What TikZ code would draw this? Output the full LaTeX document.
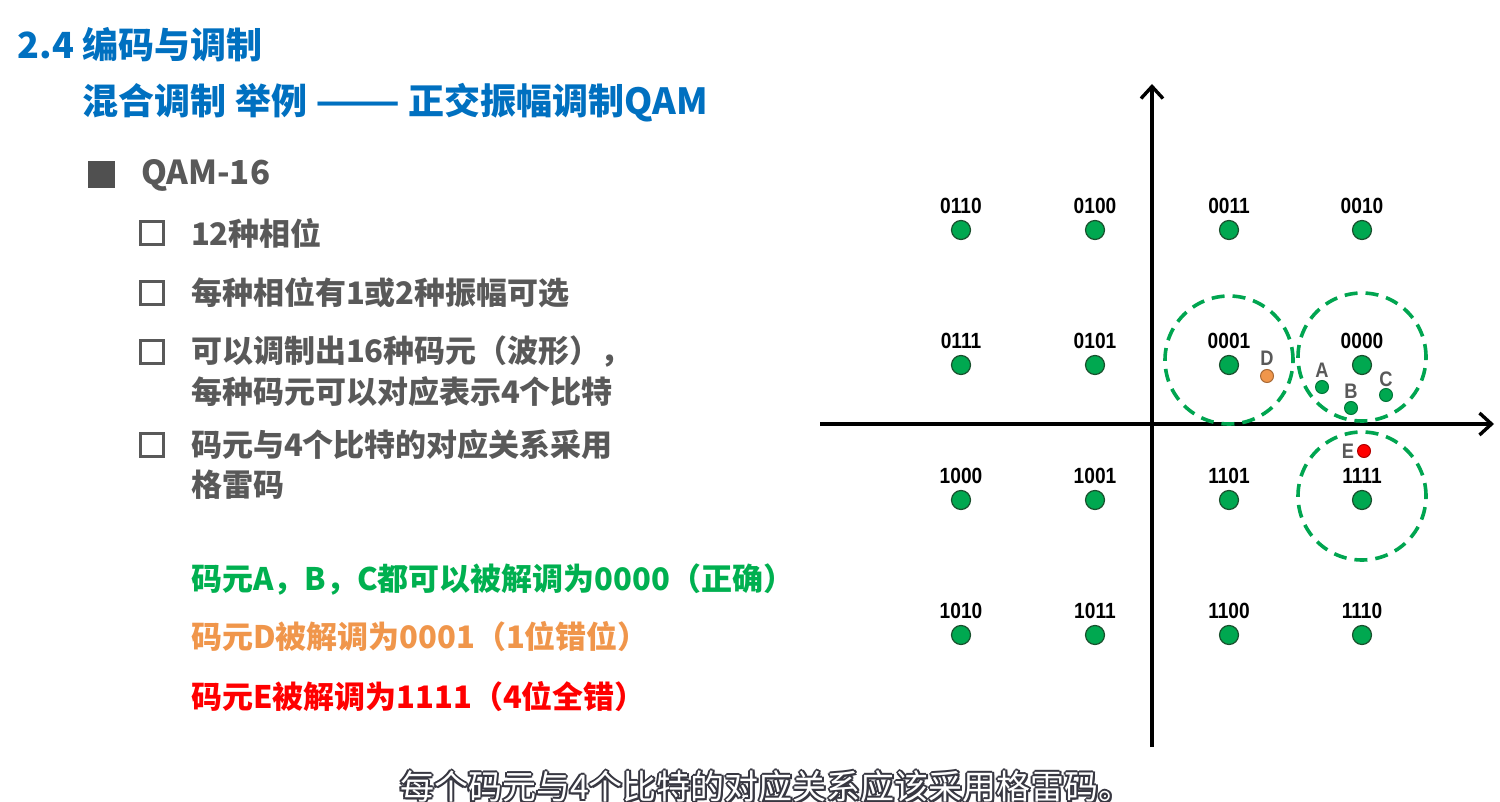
\documentclass[tikz,border=0pt]{standalone}
\usepackage{fontspec}
\usetikzlibrary{arrows.meta}
\newfontfamily\cjkfont{Noto Sans CJK SC}
\newfontfamily\labfont{Liberation Sans}[FakeStretch=0.87]
\definecolor{titleblue}{RGB}{0,112,192}
\definecolor{textgray}{RGB}{89,89,89}
\definecolor{bulletgray}{RGB}{80,80,80}
\definecolor{okgreen}{RGB}{0,176,80}
\definecolor{warnorange}{RGB}{240,150,75}
\definecolor{errred}{RGB}{255,0,0}
\definecolor{dotgreen}{RGB}{0,168,80}
\definecolor{dotedge}{RGB}{25,80,45}
\definecolor{ringgreen}{RGB}{0,165,80}
\definecolor{subedge}{RGB}{55,55,65}
\begin{document}
\begin{tikzpicture}[x=0.5pt,y=-0.5pt,
  every node/.style={inner sep=0pt,outer sep=0pt},
  headline/.style={anchor=west,font=\cjkfont\bfseries\fontsize{18}{20}\selectfont,text=titleblue},
  bodytext/.style={anchor=west,font=\cjkfont\bfseries\fontsize{15.5}{18}\selectfont,text=textgray},
  resulttext/.style={anchor=west,font=\cjkfont\bfseries\fontsize{15.5}{18}\selectfont},
  checkbox/.style={draw=textgray,line width=1.3pt,minimum size=11.5pt},
  fullbullet/.style={fill=bulletgray,minimum size=13.5pt},
  axisline/.style={line width=1.7pt,-{Straight Barb[length=6pt,width=11pt,line width=1.7pt]}},
  ring/.style={draw=ringgreen,line width=1.8pt,dash pattern=on 6.5pt off 4pt},
  symdot/.style={circle,fill=dotgreen,draw=dotedge,line width=0.6pt,minimum size=9.5pt},
  rxdot/.style={circle,draw=#1!70!black,fill=#1,line width=0.5pt,minimum size=6.5pt},
  codelab/.style={font=\labfont\bfseries\fontsize{11}{12}\selectfont,text=black},
  ptlab/.style={font=\labfont\bfseries\fontsize{10.5}{12}\selectfont,text=textgray},
  subshadow/.style={anchor=west,font=\cjkfont\fontsize{17}{18}\selectfont,text=subedge},
  subfront/.style={anchor=west,font=\cjkfont\fontsize{17}{18}\selectfont,text=white}
]
\useasboundingbox (0,0) rectangle (1500,802);
\fill[white] (0,0) rectangle (1500,802);

% headings
\node[headline] (h1) at (18,45) {2.4 编码与调制};
\node[headline] (h2) at (83,103) {混合调制 举例 \scalebox{1.38}[1]{——} 正交振幅调制QAM};

% bullet list
\node[fullbullet] (b0) at (101,175) {};
\node[bodytext,font=\cjkfont\bfseries\fontsize{16.5}{18}\selectfont] (t0) at (141,175) {QAM-16};
\node[checkbox] (c1) at (152,233) {};
\node[bodytext] (t1) at (191,233) {12种相位};
\node[checkbox] (c2) at (152,293) {};
\node[bodytext] (t2) at (191,293) {每种相位有1或2种振幅可选};
\node[checkbox] (c3) at (152,352) {};
\node[bodytext] (t3a) at (191,352) {可以调制出16种码元（波形），};
\node[bodytext] (t3b) at (191,392) {每种码元可以对应表示4个比特};
\node[checkbox] (c4) at (152,445) {};
\node[bodytext] (t4a) at (191,445) {码元与4个比特的对应关系采用};
\node[bodytext] (t4b) at (191,485) {格雷码};

% demodulation results
\node[resulttext,text=okgreen] (r1) at (191,580) {码元A，B，C都可以被解调为0000（正确）};
\node[resulttext,text=warnorange] (r2) at (191,637) {码元D被解调为0001（1位错位）};
\node[resulttext,text=errred] (r3) at (191,697) {码元E被解调为1111（4位全错）};

% axes
\coordinate (xl) at (820,424);
\coordinate (xr) at (1494,424);
\coordinate (yb) at (1152,747);
\coordinate (yt) at (1152,84);
\draw[axisline] (xl) -- (xr);
\draw[axisline] (yb) -- (yt);

% decision regions
\draw[ring] (1229,360) circle[radius=32pt];
\draw[ring] (1362,357) circle[radius=32pt];
\draw[ring] (1362,496) circle[radius=32pt];

% 16 constellation points with Gray-coded labels
\foreach \code/\px/\py in {
  0110/961/230, 0100/1095/230, 0011/1229/230, 0010/1362/230,
  0111/961/365, 0101/1095/365, 0001/1229/365, 0000/1362/365,
  1000/961/500, 1001/1095/500, 1101/1229/500, 1111/1362/500,
  1010/961/635, 1011/1095/635, 1100/1229/635, 1110/1362/635}{
  \node[symdot] (s\code) at (\px,\py) {};
  \node[codelab] (l\code) at ([yshift=12pt]s\code.center) {\code};
}

% received symbols
\node[rxdot=dotgreen] (pA) at (1322,387) {};
\node[ptlab] (lA) at (1322,370) {A};
\node[rxdot=dotgreen] (pB) at (1351,408) {};
\node[ptlab] (lB) at (1351,391) {B};
\node[rxdot=dotgreen] (pC) at (1386,395) {};
\node[ptlab] (lC) at (1386,379) {C};
\node[rxdot=warnorange] (pD) at (1267,376) {};
\node[ptlab] (lD) at (1267,358) {D};
\node[rxdot=errred] (pE) at (1364,451) {};
\node[ptlab] (lE) at (1348,451) {E};

% caption line with outlined lettering
\foreach \dx/\dy in {-2/0,2/0,0/-2,0/2,-1.5/-1.5,1.5/-1.5,-1.5/1.5,1.5/1.5}{
  \node[subshadow] at (400+\dx,787+\dy) {每个码元与4个比特的对应关系应该采用格雷码。};
}
\node[subfront] (cap) at (400,787) {每个码元与4个比特的对应关系应该采用格雷码。};
\end{tikzpicture}
\end{document}
